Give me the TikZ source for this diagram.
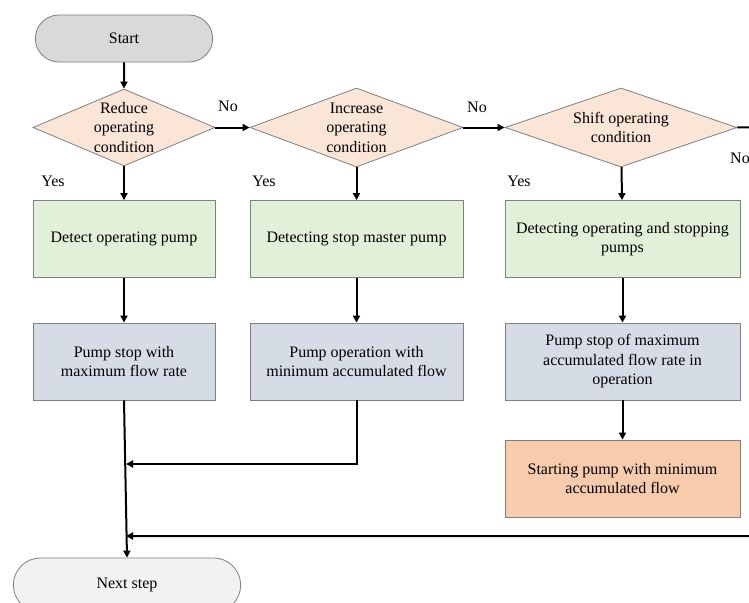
\documentclass[tikz,border=0pt]{standalone}
\usepackage{fontspec}
\setmainfont{Liberation Serif}
\usepackage{xcolor}
\usetikzlibrary{shapes.geometric,shapes.misc,arrows.meta}

\definecolor{edgegray}{HTML}{7F7F7F}
\definecolor{startgray}{HTML}{D9D9D9}
\definecolor{nextgray}{HTML}{F2F2F2}
\definecolor{askpeach}{HTML}{FBE5D6}
\definecolor{detectgreen}{HTML}{E2F0D9}
\definecolor{actionblue}{HTML}{D6DCE5}
\definecolor{startorange}{HTML}{F8CBAD}

\tikzset{
  every node/.style={font=\fontsize{16}{19.5}\selectfont},
  terminal/.style={rounded rectangle, draw=edgegray, line width=0.8pt, minimum width=#1, minimum height=47},
  ask/.style={diamond, draw=edgegray, line width=0.8pt, fill=askpeach, inner sep=0pt},
  stepbox/.style={rectangle, draw=edgegray, line width=0.8pt, align=center, minimum width=#1, minimum height=77, inner sep=0pt},
  flow/.style={line width=2pt, -{Triangle[length=7,width=7]}},
  tag/.style={inner sep=0pt}
}

\begin{document}
\begin{tikzpicture}[x=1pt,y=-1pt]
    \useasboundingbox (0,0) rectangle (749,602);
    \clip (0,0) rectangle (749,602);
    \fill[white] (0,0) rectangle (749,602);

    \node[terminal=184, fill=startgray] (start) at (124,38.5) {Start};

    \node[ask, minimum width=182, minimum height=77,
      label={[align=center]center:Reduce\\operating\\condition}] (reduce) at (124,127.5) {};
    \node[ask, minimum width=213, minimum height=79,
      label={[align=center]center:Increase\\operating\\condition}] (increase) at (356.5,127.5) {};
    \node[ask, minimum width=232, minimum height=79,
      label={[align=center]center:Shift operating\\condition}] (shift) at (621,127.5) {};

    \node[stepbox=182, fill=detectgreen] (detect1) at (124,239) {Detect operating pump};
    \node[stepbox=213, fill=detectgreen] (detect2) at (356.5,239) {Detecting stop master pump};
    \node[stepbox=235, fill=detectgreen] (detect3) at (622.5,239) {Detecting operating and stopping\\pumps};

    \node[stepbox=182, fill=actionblue] (stoppump) at (124,361.5) {Pump stop with\\maximum flow rate};
    \node[stepbox=213, fill=actionblue] (runpump) at (356.5,361.5) {Pump operation with\\minimum accumulated flow};
    \node[stepbox=235, fill=actionblue] (stopmax) at (622.5,361.5) {Pump stop of maximum\\accumulated flow rate in\\operation};
    \node[stepbox=235, fill=startorange] (startmin) at (622.5,478.5) {Starting pump with minimum\\accumulated flow};

    \node[terminal=234, minimum height=54, fill=nextgray] (next) at (127,585) {Next step};

    \node[tag] (no1) at (228,106) {No};
    \node[tag] (no2) at (477,107) {No};
    \node[tag] (no3) at (740,158) {No};
    \node[tag] (yes1) at (53,181) {Yes};
    \node[tag] (yes2) at (264,181) {Yes};
    \node[tag] (yes3) at (519,181) {Yes};

    \coordinate (join1) at (126,464);
    \coordinate (join2) at (126,536);
    \coordinate (offright) at (780,127);

    \draw[flow] (start) -- (reduce);
    \draw[flow] (reduce) -- (increase);
    \draw[flow] (increase) -- (shift);
    \draw[flow] (reduce) -- (detect1);
    \draw[flow] (increase) -- (detect2);
    \draw[flow] (shift) -- (detect3);
    \draw[flow] (detect1) -- (stoppump);
    \draw[flow] (detect2) -- (runpump);
    \draw[flow] (detect3) -- (stopmax);
    \draw[flow] (stopmax) -- (startmin);
    \draw[flow] (stoppump.south) -- (next.north);
    \draw[flow] (runpump.south) |- (join1);
    \draw[flow] (shift.east) -- (offright) |- (join2);
\end{tikzpicture}
\end{document}
